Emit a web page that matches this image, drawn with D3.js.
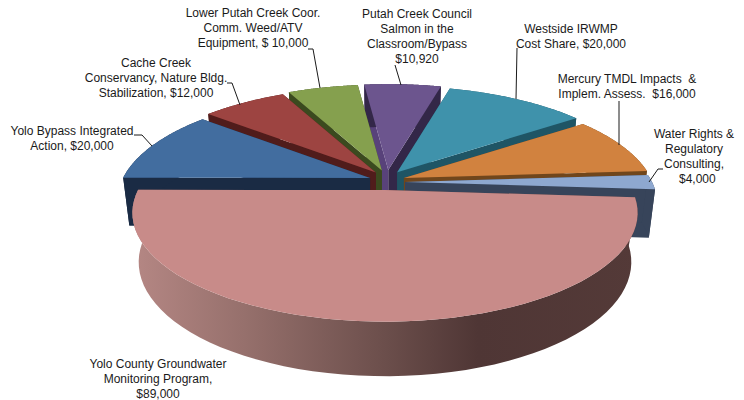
<!DOCTYPE html>
<html>
<head>
<meta charset="utf-8">
<script src="https://cdn.jsdelivr.net/npm/d3@7"></script>
<style>
  html, body { margin: 0; padding: 0; background: #fff; }
  svg { display: block; }
  text { font-family: "Liberation Sans", Arial, sans-serif; font-size: 12px; fill: #1a1a1a; white-space: pre; }
</style>
</head>
<body>
<svg width="744" height="400"></svg>
<script>
// budget items, clockwise starting from the big front slice
var categories = [
  "Yolo County Groundwater Monitoring Program",
  "Yolo Bypass Integrated Action",
  "Cache Creek Conservancy, Nature Bldg. Stabilization",
  "Lower Putah Creek Coor. Comm. Weed/ATV Equipment",
  "Putah Creek Council Salmon in the Classroom/Bypass",
  "Westside IRWMP Cost Share",
  "Mercury TMDL Impacts & Implem. Assess.",
  "Water Rights & Regulatory Consulting"
];
var values = [89000, 20000, 12000, 10000, 10920, 20000, 16000, 4000];
var labelLines = [
  ["Yolo County Groundwater", "Monitoring Program,", "$89,000"],
  ["Yolo Bypass Integrated", "Action, $20,000"],
  ["Cache Creek", "Conservancy, Nature Bldg.", "Stabilization, $12,000"],
  ["Lower Putah Creek Coor.", "Comm. Weed/ATV", "Equipment, $ 10,000"],
  ["Putah Creek Council", "Salmon in the", "Classroom/Bypass", "$10,920"],
  ["Westside IRWMP", "Cost Share, $20,000"],
  ["Mercury TMDL Impacts  &", "Implem. Assess.  $16,000"],
  ["Water Rights &", "Regulatory", "Consulting,", "  $4,000"]
];

// colours, same order as categories
var topColors  = ["#c88b89", "#426d9f", "#9d4441", "#85a04e", "#6c558e", "#3f92ab", "#d1823f", "#8ea8d0"];
var wallColors = ["#6b4a48", "#1a2b44", "#501c1b", "#3b4a1f", "#332748", "#1f5565", "#70461c", "#37445a"];
var purpleRightWall = "#58427a";

// label placement: centre x, first baseline
var labelPos = [
  [158, 368], [72, 135], [156, 67], [253, 17], [417, 18], [571, 33], [627, 83], [694, 138]
];
var leaders = [
  null,
  [[134, 135], [142, 135], [152, 146]],
  [[227, 83], [232, 83], [240, 105]],
  [[308, 49], [313, 49], [320, 88]],
  [[395, 65], [401, 85]],
  [[517, 48], [516, 99]],
  [[619, 101], [619, 145]],
  [[663, 169], [658, 169], [649, 182]]
];

var svg = d3.select("svg");

// the pie plane, seen at an angle with a bit of perspective
var cx = 387, cy = 182;
var rx = 247, ry = 104, persp = 0.21;
var shiftX = 18, shiftY = 12, bigShiftY = 8;
var depth = 48;
var deg = Math.PI / 180;

var xScale = d3.scaleLinear().domain([-1, 1]).range([-rx, rx]);
var yScale = d3.scaleLinear().domain([-1, 1]).range([ry, -ry]);

function topPoint(a, ox, oy) {
  var X = Math.sin(a), Z = Math.cos(a);
  var s = 1 / (1 + persp * Z);
  return [ox + xScale(X) * s, oy + yScale(Z) * s];
}
function bottomPoint(a, ox, oy) {
  var X = Math.sin(a), Z = Math.cos(a);
  var s = 1 / (1 + persp * Z);
  var h = depth / (1 + 0.12 * Z);
  return [ox + xScale(X) * s * 0.975, oy + yScale(Z) * s + h];
}
function arcPts(fn, d, ox, oy) {
  return d3.range(0, 61).map(function (i) {
    return fn(d.startAngle + (d.endAngle - d.startAngle) * i / 60, ox, oy);
  });
}

var pie = d3.pie().sort(null).startAngle(94 * deg).endAngle(454 * deg);
var slices = pie(values).map(function (d, i) {
  var mid = (d.startAngle + d.endAngle) / 2;
  d.i = i;
  d.mid = mid;
  d.ox = cx + (i === 0 ? -2 : shiftX * Math.sin(mid));
  d.oy = cy + (i === 0 ? bigShiftY : -shiftY * Math.cos(mid));
  return d;
});

var defs = svg.append("defs");
var grad = defs.append("linearGradient").attr("id", "bigWall")
  .attr("gradientUnits", "userSpaceOnUse")
  .attr("x1", 133).attr("x2", 640).attr("y1", 0).attr("y2", 0);
[[0, "#b58784"], [0.22, "#96706c"], [0.5, "#6b4e4b"], [0.68, "#4f3635"], [1, "#543a38"]].forEach(function (s) {
  grad.append("stop").attr("offset", s[0]).attr("stop-color", s[1]);
});

var line = d3.line();
var polyPath = function (pts) { return line(pts) + "Z"; };

// painter's order: back slices first, the big front slice last
var order = slices.slice().sort(function (a, b) { return Math.cos(b.mid) - Math.cos(a.mid); });

var g = svg.append("g");
order.forEach(function (d) {
  var wall = d.i === 0 ? "url(#bigWall)" : wallColors[d.i];
  var apexT = [d.ox, d.oy];
  var apexB = [d.ox, d.oy + depth];
  var sT = topPoint(d.startAngle, d.ox, d.oy), sB = bottomPoint(d.startAngle, d.ox, d.oy);
  var eT = topPoint(d.endAngle, d.ox, d.oy), eB = bottomPoint(d.endAngle, d.ox, d.oy);

  // two cut faces
  g.append("path").attr("d", polyPath([apexT, eT, eB, apexB]))
    .attr("fill", d.i === 0 ? wallColors[0] : wall);
  g.append("path").attr("d", polyPath([apexT, sT, sB, apexB]))
    .attr("fill", d.i === 4 ? purpleRightWall : (d.i === 0 ? wallColors[0] : wall));

  // outer rim
  var rimTop = arcPts(topPoint, d, d.ox, d.oy);
  var rimBot = arcPts(bottomPoint, d, d.ox, d.oy).reverse();
  g.append("path").attr("d", polyPath(rimTop.concat(rimBot))).attr("fill", wall);

  // top face
  g.append("path").attr("d", polyPath([apexT].concat(rimTop)))
    .attr("fill", topColors[d.i]);
});

// leader lines
svg.append("g").selectAll("path")
  .data(leaders.filter(Boolean))
  .join("path")
  .attr("d", line)
  .attr("fill", "none")
  .attr("stroke", "#1a1a1a")
  .attr("stroke-width", 1);

// labels
var labels = svg.append("g").selectAll("text")
  .data(labelLines)
  .join("text")
  .attr("text-anchor", "middle")
  .attr("x", function (d, i) { return labelPos[i][0]; })
  .attr("y", function (d, i) { return labelPos[i][1]; });
labels.selectAll("tspan")
  .data(function (d, i) { return d.map(function (t) { return { t: t, i: i }; }); })
  .join("tspan")
  .attr("x", function (d) { return labelPos[d.i][0]; })
  .attr("dy", function (d, j) { return j === 0 ? 0 : 15; })
  .text(function (d) { return d.t; });
</script>
</body>
</html>
